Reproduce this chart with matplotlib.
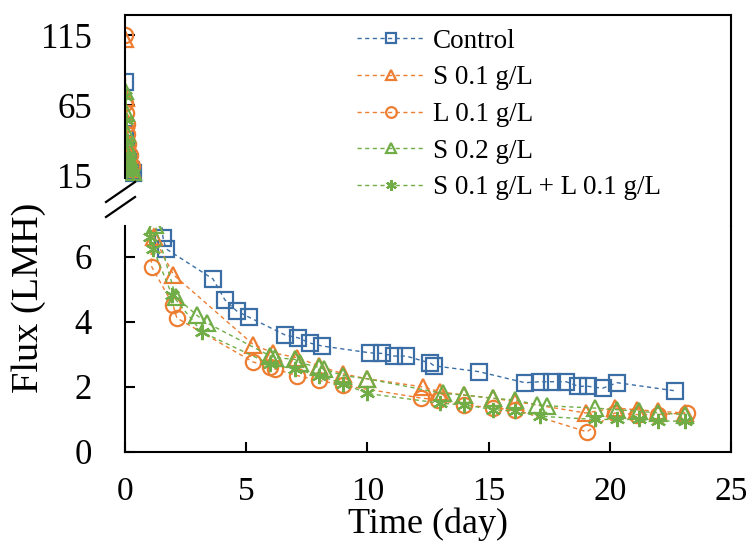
import matplotlib
matplotlib.use("Agg")
import matplotlib.pyplot as plt
from matplotlib.lines import Line2D

plt.rcParams['font.family'] = ['Liberation Serif', 'DejaVu Serif']

# flux readings (LMH) against filtration time (day)
labels = ["Control", "S 0.1 g/L", "L 0.1 g/L", "S 0.2 g/L", "S 0.1 g/L + L 0.1 g/L"]

ctrl_t = [0.0, 0.02, 0.05, 0.08, 0.12, 0.17, 0.25, 0.33,
          1.57, 1.69, 3.63, 4.12, 4.6, 5.1, 6.6, 7.15, 7.63, 8.12, 10.1, 10.6,
          11.1, 11.6, 12.6, 12.75, 14.6, 16.5, 17.1, 17.6, 18.2, 18.7, 19.1,
          19.7, 20.3, 22.7]
ctrl_f = [82, 45, 38, 30, 25, 22, 19, 17,
          6.58, 6.25, 5.32, 4.68, 4.34, 4.15, 3.6, 3.51, 3.35, 3.26, 3.05, 3.03,
          2.95, 2.95, 2.73, 2.65, 2.47, 2.13, 2.16, 2.16, 2.16, 2.02, 2.02,
          1.96, 2.13, 1.88]

s01_t = [0.0, 0.03, 0.06, 0.1, 0.15, 0.22, 0.3,
         1.2, 2.0, 5.3, 6.1, 7.1, 8.0, 9.0, 10.0, 12.3, 13.0, 14.0, 15.2,
         16.1, 19.0, 20.2, 21.1, 22.0, 23.1]
s01_f = [112, 70, 55, 40, 30, 25, 20,
         6.6, 5.45, 3.3, 3.05, 2.9, 2.65, 2.4, 2.25, 2.0, 1.85, 1.75, 1.65,
         1.55, 1.2, 1.35, 1.3, 1.25, 1.2]

l01_t = [0.0, 0.02, 0.04, 0.07, 0.1, 0.14, 0.2, 0.28,
         1.1, 1.98, 2.14, 5.28, 6.0, 6.2, 7.1, 8.0, 9.0, 12.2, 12.9, 14.0,
         15.2, 16.1, 19.05, 20.2, 21.1, 22.0, 23.2]
l01_f = [115, 67, 60, 52, 45, 38, 30, 22,
         5.7, 4.52, 4.12, 2.77, 2.6, 2.55, 2.35, 2.2, 2.05, 1.66, 1.6, 1.45,
         1.35, 1.3, 0.62, 1.2, 1.15, 1.15, 1.2]

s02_t = [0.0, 0.03, 0.07, 0.11, 0.16, 0.23, 0.32,
         1.24, 2.1, 2.97, 3.38, 6.0, 6.2, 7.0, 7.2, 8.0, 8.2, 9.0, 10.0, 13.1,
         14.0, 15.2, 16.1, 17.0, 17.4, 19.4, 20.3, 21.2, 22.0, 23.1]
s02_f = [75, 60, 45, 35, 28, 22, 18,
         6.98, 4.77, 4.2, 3.97, 2.95, 2.9, 2.85, 2.75, 2.6, 2.55, 2.35, 2.25,
         1.8, 1.75, 1.65, 1.6, 1.45, 1.42, 1.35, 1.3, 1.25, 1.2, 1.15]

sl_t = [0.0, 0.04, 0.08, 0.12, 0.18, 0.26, 0.35,
        1.03, 1.16, 1.94, 3.17, 6.0, 7.0, 8.0, 9.0, 10.0, 13.0, 14.0, 15.2,
        16.1, 17.1, 19.4, 20.3, 21.2, 22.0, 23.1]
sl_f = [72, 55, 40, 30, 25, 20, 17,
        6.6, 6.25, 4.83, 3.69, 2.7, 2.55, 2.35, 2.1, 1.8, 1.5, 1.45, 1.3,
        1.25, 1.1, 1.0, 1.0, 1.0, 0.95, 0.95]

series = [(ctrl_t, ctrl_f), (s01_t, s01_f), (l01_t, l01_f), (s02_t, s02_f), (sl_t, sl_f)]
colors = ["#3A6EA5", "#ED7D31", "#ED7D31", "#70AD47", "#70AD47"]
markers = ["s", "^", "o", "^", (6, 2, 0)]
BREAK = 12  # values above this go to the upper panel

fig = plt.figure(figsize=(7.52, 5.52), dpi=100)
ax_top = fig.add_axes([0.1662, 0.5906, 0.806, 0.3822])
ax = fig.add_axes([0.1662, 0.1812, 0.806, 0.4094])

for (t, f), c, m, lab in zip(series, colors, markers, labels):
    kw = dict(color=c, lw=1.0, linestyle=(0, (3, 2.5)), marker=m,
              markerfacecolor='none', markeredgecolor=c, markeredgewidth=1.6,
              markersize=11, label=lab)
    ax.plot(t, f, **kw)
    hi = [(ti, fi) for ti, fi in zip(t, f) if fi > BREAK]
    ax_top.plot([p[0] for p in hi], [p[1] for p in hi], **kw)

tick_kw = dict(direction='in', length=7, width=1.5, labelsize=25, pad=24)

# upper part of the broken axis
ax_top.set_xlim(0, 25)
ax_top.set_ylim(-20.5, 129.2)
ax_top.set_yticks([15, 65, 115])
ax_top.tick_params(axis='y', **tick_kw)
ax_top.tick_params(axis='x', bottom=False, labelbottom=False)
ax_top.spines['bottom'].set_visible(False)
ax_top.spines['left'].set_bounds(13.5, 129.2)
for s in ['top', 'left', 'right']:
    ax_top.spines[s].set_linewidth(1.5)
ax_top.patch.set_visible(False)

# lower part
ax.set_xlim(0, 25)
ax.set_ylim(0, 6.95)
ax.set_xticks([0, 5, 10, 15, 20, 25])
ax.set_yticks([0, 2, 4, 6])
ax.tick_params(axis='both', **tick_kw)
ax.tick_params(axis='x', labelsize=24, pad=18)
ax.spines['top'].set_visible(False)
for s in ['bottom', 'left', 'right']:
    ax.spines[s].set_linewidth(1.5)
ax.patch.set_visible(False)
ax.set_xlabel("Time (day)", fontsize=26, labelpad=0)

fig.text(29 / 752, 1 - 298 / 552, "Flux (LMH)", rotation=90, fontsize=27.5,
         ha='center', va='center')

# break marks on the y axis
W, H = 752, 552
for y0 in (202, 217):
    fig.add_artist(Line2D([106 / W, 135 / W], [1 - y0 / H, 1 - (y0 - 20) / H],
                          color='black', lw=1.6))

handles, labs = ax.get_legend_handles_labels()
fig.legend(handles, labs, loc='upper left', bbox_to_anchor=(346 / W, 1 - 18 / H),
           frameon=False, fontsize=19.5, handlelength=2.5, handletextpad=0.3,
           labelspacing=0.43, markerscale=0.7, borderaxespad=0)

fig.savefig("out.png", dpi=100)
